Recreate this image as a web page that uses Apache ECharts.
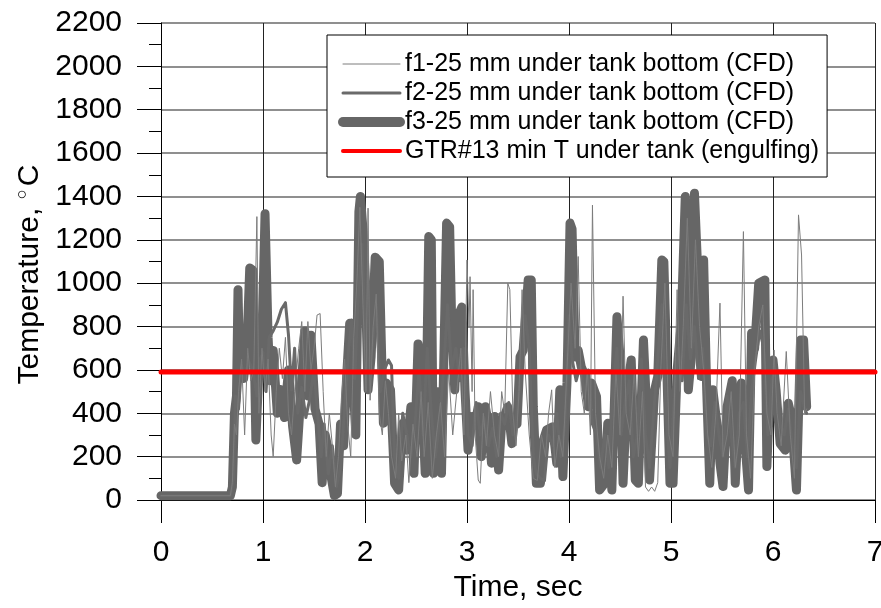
<!DOCTYPE html>
<html>
<head>
<meta charset="utf-8">
<title>Temperature under tank</title>
<script src="https://cdn.jsdelivr.net/npm/echarts@6/dist/echarts.min.js"></script>
<style>
  html, body { margin: 0; padding: 0; background: #fff; }
  #echart { width: 881px; height: 608px; }
</style>
</head>
<body>
<div id="echart"></div>
<script>
// series names (legend order)
var names = [
  'f1-25 mm under tank bottom (CFD)',
  'f2-25 mm under tank bottom (CFD)',
  'f3-25 mm under tank bottom (CFD)',
  'GTR#13 min T under tank (engulfing)'
];

// [time s, temperature C]
var f1 = [
  [0,20],[0.68,20],[0.70,80],[0.72,350],[0.74,300],[0.76,500],[0.79,650],[0.82,300],[0.85,700],[0.88,550],
  [0.91,600],[0.94,1307],[0.96,400],[0.99,700],[1.02,500],[1.05,650],[1.08,300],[1.10,200],[1.13,500],[1.16,700],
  [1.19,560],[1.22,750],[1.25,400],[1.28,300],[1.31,500],[1.35,700],[1.38,823],[1.41,500],[1.44,823],[1.47,600],
  [1.50,700],[1.53,853],[1.56,860],[1.59,500],[1.62,200],[1.65,400],[1.68,250],[1.71,60],[1.74,200],[1.77,480],
  [1.80,650],[1.83,350],[1.86,200],[1.89,750],[1.92,1000],[1.95,1350],[1.98,900],[2.01,500],[2.03,1346],[2.05,460],
  [2.08,800],[2.11,950],[2.14,400],[2.17,300],[2.20,550],[2.23,400],[2.26,200],[2.30,100],[2.33,400],[2.36,180],
  [2.40,300],[2.43,80],[2.47,350],[2.51,200],[2.55,500],[2.58,200],[2.62,450],[2.66,100],[2.70,300],[2.74,450],
  [2.78,200],[2.82,600],[2.86,300],[2.90,500],[2.94,700],[2.97,300],[3.00,1107],[3.02,800],[3.03,1030],[3.05,500],
  [3.06,970],[3.08,300],[3.11,92],[3.13,77],[3.16,400],[3.19,250],[3.23,500],[3.27,300],[3.31,200],[3.34,500],
  [3.37,400],[3.40,1000],[3.42,970],[3.45,400],[3.48,250],[3.51,500],[3.54,970],[3.57,600],[3.61,300],[3.65,100],
  [3.69,90],[3.73,300],[3.77,200],[3.80,400],[3.83,508],[3.86,150],[3.90,300],[3.94,200],[3.98,600],[4.02,1000],
  [4.06,700],[4.09,1123],[4.12,500],[4.15,400],[4.18,600],[4.21,300],[4.23,1360],[4.26,400],[4.30,200],[4.34,100],
  [4.38,300],[4.42,150],[4.46,600],[4.50,300],[4.53,940],[4.56,400],[4.60,300],[4.64,600],[4.68,200],[4.72,500],
  [4.75,60],[4.78,40],[4.81,60],[4.84,40],[4.87,80],[4.90,600],[4.94,1000],[4.98,300],[5.02,200],[5.06,970],
  [5.09,500],[5.12,800],[5.16,1300],[5.20,700],[5.24,1200],[5.28,800],[5.32,600],[5.36,300],[5.40,150],[5.44,400],
  [5.48,908],[5.51,200],[5.55,300],[5.59,500],[5.63,150],[5.67,300],[5.71,1238],[5.74,300],[5.78,100],[5.82,600],
  [5.86,800],[5.90,900],[5.94,400],[5.98,300],[6.01,692],[6.04,400],[6.08,250],[6.13,685],[6.17,300],[6.21,100],
  [6.25,1315],[6.28,1130],[6.31,400],[6.33,420]
];

var f2 = [
  [0,20],[0.68,20],[0.71,100],[0.73,480],[0.76,420],[0.79,620],[0.82,560],[0.86,640],[0.90,600],[0.94,480],
  [0.97,650],[1.00,680],[1.03,500],[1.06,750],[1.10,780],[1.14,820],[1.18,880],[1.22,910],[1.25,760],[1.28,508],
  [1.31,700],[1.34,400],[1.38,520],[1.42,380],[1.46,470],[1.50,600],[1.53,430],[1.57,200],[1.60,350],[1.64,120],
  [1.68,250],[1.72,60],[1.76,150],[1.80,420],[1.84,700],[1.87,830],[1.90,560],[1.93,900],[1.97,1180],[2.00,800],
  [2.03,600],[2.07,700],[2.11,900],[2.15,500],[2.19,600],[2.23,646],[2.26,620],[2.29,200],[2.33,100],[2.37,400],
  [2.41,300],[2.45,200],[2.49,350],[2.53,600],[2.57,300],[2.61,700],[2.65,400],[2.69,200],[2.73,350],[2.77,600],
  [2.81,900],[2.85,600],[2.89,700],[2.93,550],[2.97,700],[3.01,300],[3.05,250],[3.09,450],[3.13,300],[3.17,380],
  [3.21,250],[3.25,330],[3.29,200],[3.33,400],[3.37,350],[3.41,450],[3.45,300],[3.49,400],[3.53,600],[3.57,850],
  [3.61,700],[3.65,200],[3.68,120],[3.72,100],[3.76,90],[3.80,300],[3.84,250],[3.88,400],[3.92,200],[3.96,350],
  [4.00,850],[4.03,650],[4.07,550],[4.11,620],[4.15,480],[4.19,600],[4.23,350],[4.27,300],[4.31,150],[4.35,300],
  [4.39,150],[4.43,500],[4.47,700],[4.51,300],[4.55,450],[4.59,550],[4.63,200],[4.67,300],[4.71,650],[4.75,300],
  [4.79,150],[4.83,400],[4.87,650],[4.91,900],[4.95,400],[4.99,150],[5.03,450],[5.07,700],[5.11,550],[5.15,900],
  [5.19,650],[5.23,800],[5.27,560],[5.31,700],[5.35,300],[5.39,250],[5.43,450],[5.47,300],[5.51,200],[5.55,480],
  [5.59,300],[5.63,150],[5.67,400],[5.71,450],[5.75,200],[5.79,500],[5.83,650],[5.87,780],[5.91,700],[5.95,300],
  [5.99,560],[6.03,600],[6.07,350],[6.11,300],[6.15,420],[6.19,250],[6.23,150],[6.27,500],[6.31,420],[6.33,400]
];

var f3 = [
  [0,20],[0.68,20],[0.70,60],[0.72,400],[0.74,480],[0.755,970],[0.77,620],[0.79,690],[0.81,560],[0.84,680],
  [0.87,1070],[0.90,1060],[0.93,277],[0.96,600],[0.99,740],[1.02,1320],[1.05,750],[1.07,550],[1.10,690],[1.14,400],
  [1.17,510],[1.21,380],[1.25,600],[1.29,340],[1.33,185],[1.37,480],[1.41,780],[1.44,480],[1.47,760],[1.51,420],
  [1.55,350],[1.58,80],[1.61,300],[1.64,230],[1.67,100],[1.70,20],[1.73,30],[1.76,350],[1.79,250],[1.82,570],
  [1.85,815],[1.88,570],[1.91,300],[1.94,1330],[1.955,1400],[1.98,1250],[2.00,1050],[2.03,508],[2.06,660],[2.10,1120],
  [2.14,1100],[2.18,354],[2.21,540],[2.25,508],[2.29,77],[2.33,46],[2.37,354],[2.41,230],[2.45,430],[2.48,123],
  [2.52,720],[2.56,450],[2.59,123],[2.625,1215],[2.65,1200],[2.67,123],[2.70,500],[2.75,123],[2.80,1277],[2.83,1260],
  [2.85,815],[2.88,508],[2.91,846],[2.95,890],[2.98,508],[3.01,230],[3.05,385],[3.08,354],[3.11,430],[3.14,200],
  [3.18,430],[3.21,354],[3.24,170],[3.27,385],[3.31,138],[3.34,354],[3.40,430],[3.44,260],[3.46,354],[3.49,350],
  [3.52,660],[3.55,690],[3.60,1015],[3.63,1015],[3.65,430],[3.68,77],[3.72,77],[3.75,277],[3.78,323],[3.84,338],
  [3.88,170],[3.91,508],[3.94,108],[3.98,540],[4.01,1277],[4.03,1250],[4.06,660],[4.09,690],[4.12,615],[4.16,570],
  [4.19,430],[4.22,540],[4.27,477],[4.30,46],[4.35,77],[4.38,354],[4.42,46],[4.47,845],[4.50,660],[4.53,77],
  [4.57,508],[4.61,646],[4.65,92],[4.68,77],[4.73,738],[4.76,430],[4.79,92],[4.84,508],[4.87,570],[4.91,1107],
  [4.93,1100],[4.99,77],[5.02,77],[5.06,600],[5.10,815],[5.14,1400],[5.17,508],[5.20,660],[5.23,1415],[5.27,970],
  [5.30,570],[5.32,1107],[5.35,508],[5.38,77],[5.41,508],[5.45,354],[5.48,170],[5.51,62],[5.55,430],[5.60,550],
  [5.63,77],[5.66,354],[5.69,540],[5.72,300],[5.76,46],[5.79,770],[5.82,700],[5.86,1000],[5.92,1015],[5.94,154],
  [5.97,508],[6.00,646],[6.03,508],[6.07,260],[6.12,230],[6.15,446],[6.18,385],[6.23,46],[6.27,738],[6.30,738],
  [6.33,430]
];

var gtrMin = [[0,590],[7,590]];

var font = 'Liberation Sans, Arial, sans-serif';
var widths = [1, 3, 9, 5];
var colors = ['#7c7c7c', '#6a6a6a', '#666666', '#ff0000'];

var myChart = echarts.init(document.getElementById('echart'));

function lineSeries(i, data, z) {
  return {
    name: names[i],
    type: 'line',
    data: data,
    symbol: 'none',
    z: z,
    animation: false,
    lineStyle: { width: widths[i], color: colors[i], cap: 'round', join: 'round' },
    itemStyle: { color: colors[i] }
  };
}

// legend icons: plain lines, each with its own width
var legendData = [];
for (var i = 0; i < names.length; i++) {
  legendData.push({
    name: names[i],
    itemStyle: { color: 'rgba(0,0,0,0)', borderWidth: 0, opacity: 0 },
    lineStyle: { width: i == 2 ? 10 : (i == 3 ? 4 : widths[i]), color: colors[i], cap: 'round' }
  });
}

var option = {
  backgroundColor: '#fff',
  animation: false,
  grid: { left: 161, right: 6, top: 23, bottom: 108, containLabel: false, outerBoundsMode: 'none' },
  legend: {
    orient: 'vertical',
    left: 327,
    top: 35,
    data: legendData,
    backgroundColor: '#fff',
    borderColor: '#000',
    borderWidth: 1,
    borderRadius: 0,
    padding: [15, 8, 12, 11],
    itemGap: 1,
    itemWidth: 57,
    itemHeight: 12,
    textStyle: { fontFamily: font, fontSize: 25, color: '#000', lineHeight: 28 }
  },
  xAxis: {
    type: 'value',
    min: 0, max: 7, interval: 1,
    name: 'Time, sec',
    nameLocation: 'middle',
    nameGap: 72,
    nameTextStyle: { fontFamily: font, fontSize: 30, color: '#000' },
    axisLine: { show: true, lineStyle: { color: '#000', width: 1 } },
    axisTick: { show: true, inside: false, length: 23, lineStyle: { color: '#000' } },
    axisLabel: { fontFamily: font, fontSize: 30, color: '#000', margin: 38 },
    splitLine: { show: true, lineStyle: { color: '#222', width: 1 } }
  },
  yAxis: {
    type: 'value',
    min: 0, max: 2200, interval: 200,
    name: 'Temperature, {d|○}C',
    nameLocation: 'middle',
    nameGap: 108,
    nameTextStyle: {
      fontFamily: font, fontSize: 30, color: '#000', padding: [0, 26, 0, 0],
      rich: { d: { fontFamily: font, fontSize: 17, color: '#000', padding: [0, 3, 14, 0] } }
    },
    axisLine: { show: true, lineStyle: { color: '#000', width: 1 } },
    axisTick: { show: true, inside: false, length: 24, lineStyle: { color: '#000' } },
    minorTick: { show: true, splitNumber: 2, length: 12, lineStyle: { color: '#000' } },
    axisLabel: {
      fontFamily: font, fontSize: 30, color: '#000', margin: 39,
      formatter: function (v) { return String(v); }
    },
    splitLine: { show: true, lineStyle: { color: '#6a6a6a', width: 1.5 } }
  },
  series: [
    lineSeries(2, f3, 2),
    lineSeries(1, f2, 3),
    lineSeries(0, f1, 4),
    lineSeries(3, gtrMin, 5)
  ]
};

myChart.setOption(option);
</script>
</body>
</html>
